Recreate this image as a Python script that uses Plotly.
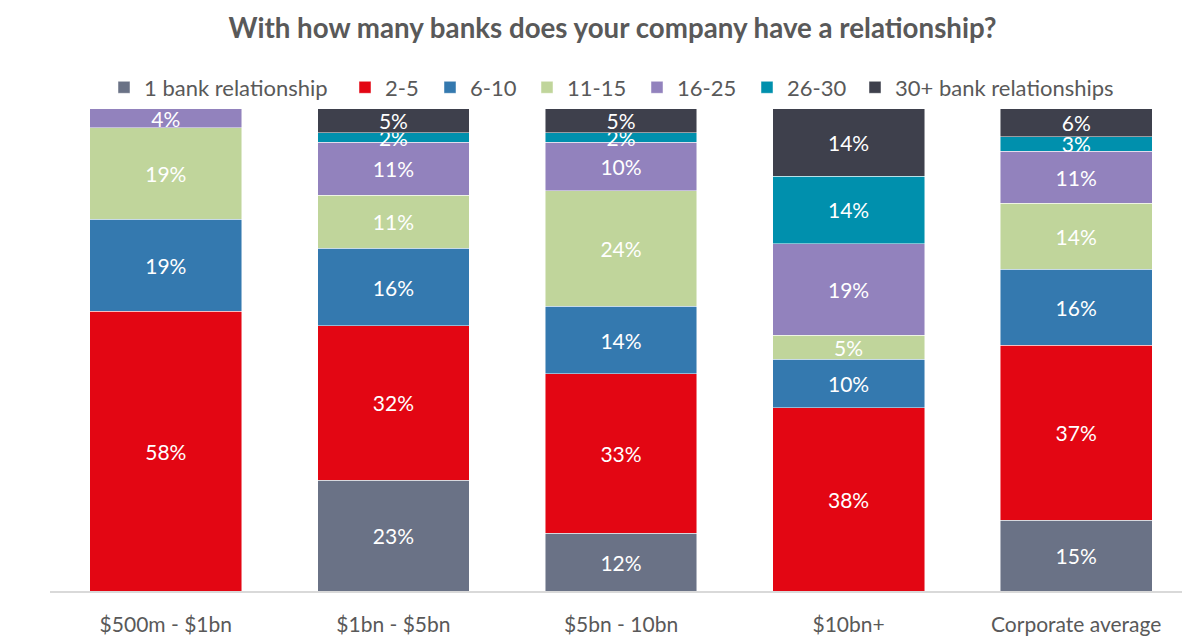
import plotly.graph_objects as go

# Company revenue bands (x categories)
categories = ["$500m - $1bn", "$1bn - $5bn", "$5bn - 10bn", "$10bn+", "Corporate average"]

# Share of companies (%) by number of bank relationships
series_names = ["1 bank relationship", "2-5", "6-10", "11-15", "16-25", "26-30", "30+ bank relationships"]
one_bank = [0, 23, 12, 0, 15]
two_to_five = [58, 32, 33, 38, 37]
six_to_ten = [19, 16, 14, 10, 16]
eleven_to_fifteen = [19, 11, 24, 5, 14]
sixteen_to_25 = [4, 11, 10, 19, 11]
twentysix_to_30 = [0, 2, 2, 14, 3]
thirty_plus = [0, 5, 5, 14, 6]

series_values = [one_bank, two_to_five, six_to_ten, eleven_to_fifteen,
                 sixteen_to_25, twentysix_to_30, thirty_plus]
colors = ["#6A7286", "#E30613", "#3479AF", "#C0D59B", "#9282BD", "#0090AD", "#3E404C"]

# left edge (px) of each legend swatch along the top row
legend_px = [118, 359, 444, 541, 651, 761, 869]

FONT = "Lato, 'Liberation Sans', sans-serif"
TEXT_GREY = "#595959"
W, H = 1182, 636

fig = go.Figure()
legend_layouts = {}
for i, (name, vals, col) in enumerate(zip(series_names, series_values, colors)):
    lg = "legend" if i == 0 else f"legend{i + 1}"
    fig.add_trace(go.Bar(
        name=name,
        x=categories,
        y=vals,
        legend=lg,
        marker=dict(color=col, line=dict(color="rgba(255,255,255,0.6)", width=0.8)),
        text=[f"{v}%" if v > 0 else "" for v in vals],
        textposition="inside",
        insidetextanchor="middle",
        textangle=0,
        constraintext="none",
        textfont=dict(family=FONT, size=21, color="white"),
        hoverinfo="skip",
    ))
    legend_layouts[lg] = dict(
        orientation="h",
        xref="container", yref="container",
        x=(legend_px[i] - 14) / W, xanchor="left",
        y=1 - 87.5 / H, yanchor="middle",
        font=dict(family=FONT, size=22, color=TEXT_GREY),
        bgcolor="rgba(0,0,0,0)", borderwidth=0,
        itemclick=False, itemdoubleclick=False,
    )

step_px = 227.6
left_px = 50
right_px = W
x_start = -0.5 - (52 - left_px) / step_px
x_end = x_start + (right_px - left_px) / step_px

fig.update_layout(
    width=W,
    height=H,
    barmode="stack",
    barnorm="percent",
    bargap=0.333,
    plot_bgcolor="white",
    paper_bgcolor="white",
    margin=dict(l=left_px, r=0, t=108, b=42),
    uniformtext=dict(minsize=21, mode="show"),
    title=dict(
        text="<b>With how many banks does your company have a relationship?</b>",
        xref="container", x=612.5 / W, xanchor="center",
        yref="container", y=1 - 28 / H, yanchor="middle",
        font=dict(family=FONT, size=27.7, color=TEXT_GREY),
    ),
    xaxis=dict(
        range=[x_start, x_end],
        showgrid=False,
        showline=True, linecolor="#D9D9D9", linewidth=2,
        ticks="outside", ticklen=14, tickcolor="rgba(0,0,0,0)",
        tickfont=dict(family=FONT, size=21, color=TEXT_GREY),
        fixedrange=True,
    ),
    yaxis=dict(range=[0, 100], visible=False, fixedrange=True),
    showlegend=True,
    **legend_layouts,
)

fig.write_html("out.html", config={"displayModeBar": False})
